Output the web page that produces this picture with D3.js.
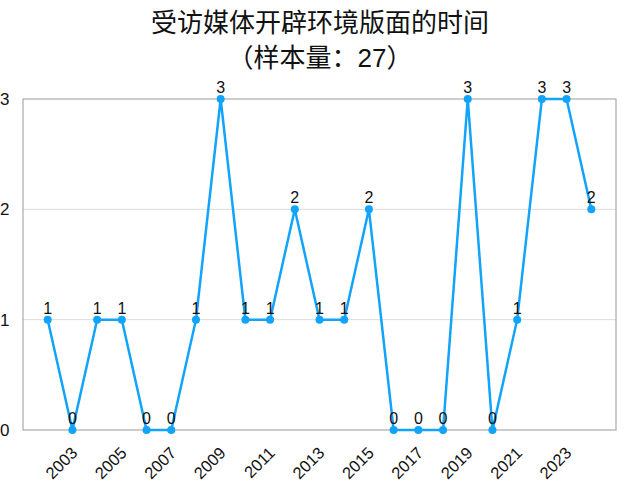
<!DOCTYPE html>
<html>
<head>
<meta charset="utf-8">
<script src="https://cdn.jsdelivr.net/npm/d3@7"></script>
<style>
  body { margin: 0; background: #fff; }
  text { font-family: "Helvetica Neue", "Liberation Sans", "Noto Sans CJK SC", sans-serif; }
</style>
</head>
<body>
<svg id="chart" width="624" height="483"></svg>
<script>
// data
var years = [2002, 2003, 2004, 2005, 2006, 2007, 2008, 2009, 2010, 2011, 2012, 2013,
             2014, 2015, 2016, 2017, 2018, 2019, 2020, 2021, 2022, 2023, 2024];
var counts = [1, 0, 1, 1, 0, 0, 1, 3, 1, 1, 2, 1, 1, 2, 0, 0, 0, 3, 0, 1, 3, 3, 2];
var yTicks = [0, 1, 2, 3];
var xTicks = [2003, 2005, 2007, 2009, 2011, 2013, 2015, 2017, 2019, 2021, 2023];
var titleLines = ['受访媒体开辟环境版面的时间', '（样本量：27）'];

var svg = d3.select('#chart');
var plotL = 23, plotR = 616, plotT = 99, plotB = 430;
var blue = '#12a3fa';

var x = d3.scaleLinear().domain([2001, 2025]).range([plotL, plotR]);
var y = d3.scaleLinear().domain([0, 3]).range([plotB, plotT]);

// title
svg.selectAll('.title').data(titleLines).enter().append('text')
    .attr('x', 320).attr('y', function(d, i) { return 32 + i * 35; })
    .attr('text-anchor', 'middle').attr('font-size', 26).attr('fill', '#111')
    .text(function(d) { return d; });

// gridlines
svg.selectAll('.grid').data([1, 2]).enter().append('line')
    .attr('x1', plotL).attr('x2', plotR)
    .attr('y1', function(d) { return y(d); }).attr('y2', function(d) { return y(d); })
    .attr('stroke', '#dcdcdc').attr('stroke-width', 1);

// frame
svg.append('rect').attr('x', plotL).attr('y', plotT)
    .attr('width', plotR - plotL).attr('height', plotB - plotT)
    .attr('fill', 'none').attr('stroke', '#999').attr('stroke-width', 1);

// y tick labels
svg.selectAll('.ytick').data(yTicks).enter().append('text')
    .attr('x', 0).attr('y', function(d) { return y(d) + 6; })
    .attr('font-size', 17).attr('fill', '#111')
    .text(function(d) { return d; });

// x tick labels, rotated
svg.selectAll('.xtick').data(xTicks).enter().append('text')
    .attr('transform', function(d) { return 'translate(' + (x(d) + 6) + ',' + (plotB + 24) + ') rotate(-45)'; })
    .attr('text-anchor', 'end').attr('font-size', 16.5).attr('fill', '#111')
    .text(function(d) { return d; });

var pts = years.map(function(d, i) { return [d, counts[i]]; });

svg.append('path').datum(pts)
    .attr('d', d3.line().x(function(d) { return x(d[0]); }).y(function(d) { return y(d[1]); }))
    .attr('fill', 'none').attr('stroke', blue).attr('stroke-width', 2.5);

svg.selectAll('.dot').data(pts).enter().append('circle')
    .attr('cx', function(d) { return x(d[0]); }).attr('cy', function(d) { return y(d[1]); })
    .attr('r', 4).attr('fill', blue);

svg.selectAll('.lbl').data(pts).enter().append('text')
    .attr('x', function(d) { return x(d[0]); }).attr('y', function(d) { return y(d[1]) - 6; })
    .attr('text-anchor', 'middle').attr('font-size', 16).attr('fill', '#111')
    .text(function(d) { return d[1]; });
</script>
</body>
</html>
